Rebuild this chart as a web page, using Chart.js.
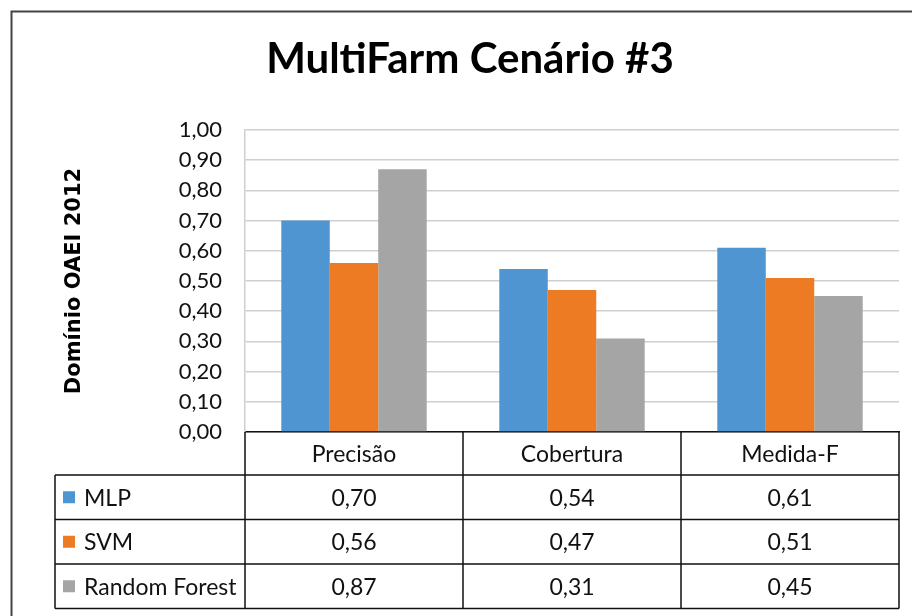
<!DOCTYPE html>
<html>
<head>
<meta charset="utf-8">
<title>MultiFarm Cenário #3</title>
<script src="https://cdn.jsdelivr.net/npm/chart.js@4.4.1/dist/chart.umd.min.js"></script>
<style>
  html, body { margin: 0; padding: 0; background: #ffffff; }
  #wrap { width: 912px; height: 616px; position: relative; }
</style>
</head>
<body>
<div id="wrap"><canvas id="chart" width="912" height="616"></canvas></div>
<script>
// ---- data ----
const chartTitle = 'MultiFarm Cenário #3';
const yAxisTitle = 'Domínio OAEI 2012';
const categories = ['Precisão', 'Cobertura', 'Medida-F'];
const seriesNames = ['MLP', 'SVM', 'Random Forest'];
const mlpValues = [0.70, 0.54, 0.61];
const svmValues = [0.56, 0.47, 0.51];
const randomForestValues = [0.87, 0.31, 0.45];
const yTickValues = [0, 0.1, 0.2, 0.3, 0.4, 0.5, 0.6, 0.7, 0.8, 0.9, 1.0];

// ---- styling ----
const seriesColors = ['#4F95D1', '#ED7B24', '#A4A5A4'];
const textColor = '#111111';
const bodyFont = 'Lato';
const tableFontSize = 23;
const tableHeaderBottom = 475;   // bottom edge of the category header row
const tableRowHeight = 44.5;
const tableLeft = 55;            // left edge of the legend column

const fmt = v => v.toFixed(2).replace('.', ',');

const seriesValues = [mlpValues, svmValues, randomForestValues];

// Frame around the whole chart plus the data table under the plot
const tablePlugin = {
  id: 'dataTable',
  afterDraw(chart) {
    const ctx = chart.ctx;
    const area = chart.chartArea;
    const n = categories.length;
    const colW = (area.right - area.left) / n;
    const bounds = [];
    for (let i = 0; i <= n; i++) bounds.push(area.left + i * colW);
    const rowLines = [tableHeaderBottom];
    for (let r = 1; r <= seriesNames.length; r++) rowLines.push(tableHeaderBottom + r * tableRowHeight);
    const tableBottom = rowLines[rowLines.length - 1];

    ctx.save();
    // outer frame
    ctx.strokeStyle = '#444444';
    ctx.lineWidth = 2;
    ctx.beginPath();
    ctx.moveTo(11.5, 616);
    ctx.lineTo(11.5, 11.5);
    ctx.lineTo(912, 11.5);
    ctx.stroke();

    // table grid
    ctx.strokeStyle = '#111111';
    ctx.lineWidth = 1.5;
    ctx.beginPath();
    bounds.forEach(x => {
      ctx.moveTo(x, area.bottom);
      ctx.lineTo(x, tableBottom);
    });
    ctx.moveTo(tableLeft, tableHeaderBottom);
    ctx.lineTo(tableLeft, tableBottom);
    rowLines.forEach(y => {
      ctx.moveTo(tableLeft, y);
      ctx.lineTo(area.right, y);
    });
    ctx.stroke();

    // rows: legend key + values
    ctx.font = tableFontSize + 'px ' + bodyFont;
    ctx.textBaseline = 'middle';
    seriesNames.forEach((name, r) => {
      const cy = tableHeaderBottom + (r + 0.5) * tableRowHeight;
      ctx.fillStyle = seriesColors[r];
      ctx.fillRect(63, cy - 6, 12, 12);
      ctx.fillStyle = textColor;
      ctx.textAlign = 'left';
      ctx.fillText(name, 84, cy + 1);
      ctx.textAlign = 'center';
      seriesValues[r].forEach((v, c) => {
        ctx.fillText(fmt(v), (bounds[c] + bounds[c + 1]) / 2, cy + 1);
      });
    });
    ctx.restore();
  }
};

function build() {
  new Chart(document.getElementById('chart'), {
    type: 'bar',
    data: {
      labels: categories,
      datasets: seriesNames.map((name, i) => ({
        label: name,
        data: seriesValues[i],
        backgroundColor: seriesColors[i],
        borderWidth: 0,
        barPercentage: 1.0,
        categoryPercentage: 0.667
      }))
    },
    options: {
      responsive: false,
      animation: false,
      layout: { padding: { left: 41, right: 13, top: 0, bottom: 0 } },
      plugins: {
        legend: { display: false },
        tooltip: { enabled: false },
        title: {
          display: true,
          text: chartTitle,
          color: '#000000',
          font: { family: bodyFont, size: 42, weight: 'bold', lineHeight: 1.2 },
          padding: { top: 34, bottom: 45.6 }
        }
      },
      scales: {
        x: {
          grid: { display: true, drawOnChartArea: false, drawTicks: false },
          border: { display: true, color: '#111111', width: 1.5 },
          ticks: {
            color: textColor,
            font: { family: bodyFont, size: tableFontSize },
            padding: 8.5,
            maxRotation: 0
          },
          afterFit(scale) { scale.height = 184; }
        },
        y: {
          min: 0,
          max: 1,
          afterBuildTicks(scale) { scale.ticks = yTickValues.map(v => ({ value: v })); },
          grid: { color: '#cfcfcf', lineWidth: 1.5, drawTicks: false },
          border: { display: true, color: '#cfcfcf', width: 1.5 },
          ticks: {
            color: textColor,
            font: { family: bodyFont, size: 22 },
            padding: 23,
            callback: v => fmt(v)
          },
          title: {
            display: true,
            text: yAxisTitle,
            color: '#000000',
            font: { family: 'DejaVu Sans', size: 21, weight: 'bold', lineHeight: 1.2 },
            padding: { top: 21.4, bottom: 0 }
          },
          afterFit(scale) { scale.width = 204; }
        }
      }
    },
    plugins: [tablePlugin]
  });
}

const fontLoads = [
  document.fonts.load('23px Lato'),
  document.fonts.load('bold 42px Lato'),
  document.fonts.load('bold 21px "DejaVu Sans"')
];
Promise.all(fontLoads).then(build, build);
</script>
</body>
</html>
